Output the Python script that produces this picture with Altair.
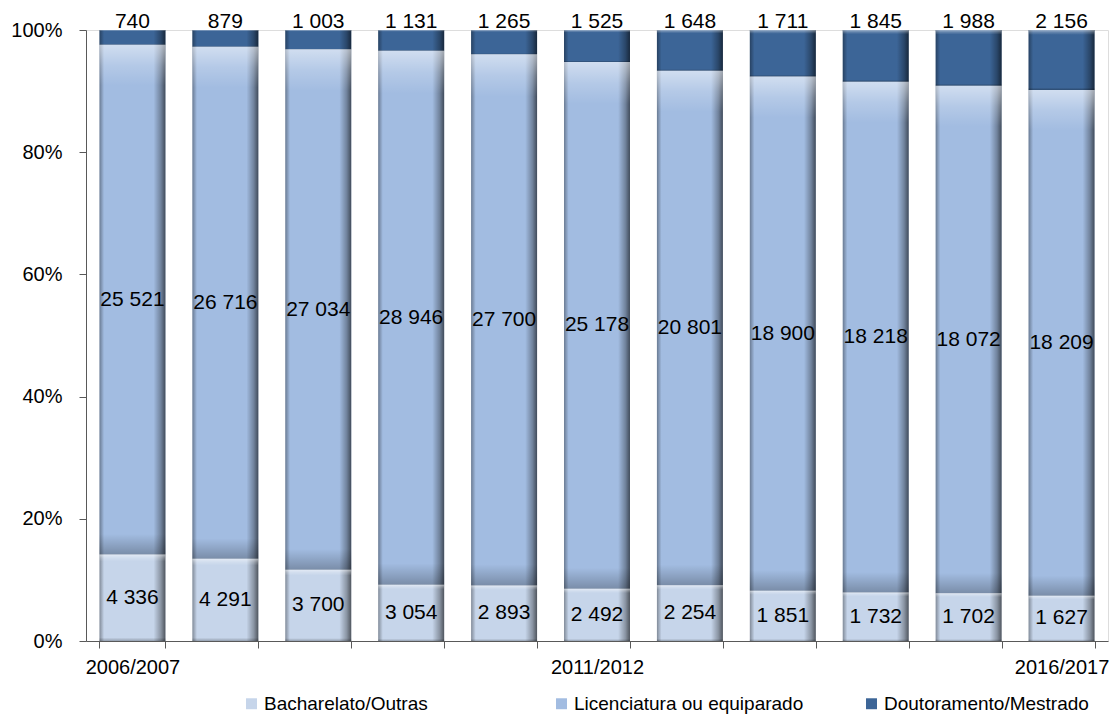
import altair as alt
import pandas as pd

years = ["2006/2007", "2007/2008", "2008/2009", "2009/2010", "2010/2011", "2011/2012",
         "2012/2013", "2013/2014", "2014/2015", "2015/2016", "2016/2017"]
series = ["Bacharelato/Outras", "Licenciatura ou equiparado", "Doutoramento/Mestrado"]
bacharelato = [4336, 4291, 3700, 3054, 2893, 2492, 2254, 1851, 1732, 1702, 1627]
licenciatura = [25521, 26716, 27034, 28946, 27700, 25178, 20801, 18900, 18218, 18072, 18209]
doutoramento = [740, 879, 1003, 1131, 1265, 1525, 1648, 1711, 1845, 1988, 2156]
shown_years = ["2006/2007", "2011/2012", "2016/2017"]
colors = ["#c6d5ea", "#a2bce1", "#3c6597"]

rows = []
for k, vals in enumerate([bacharelato, licenciatura, doutoramento]):
    for y, v in zip(years, vals):
        rows.append({"year": y, "series": series[k], "k": k, "value": v,
                     "label": f"{v:,}".replace(",", " ")})
df = pd.DataFrame(rows)

FONT = "Liberation Sans"

x_enc = alt.X("year:N", sort=years,
              scale=alt.Scale(paddingInner=0.29, paddingOuter=0.145),
              axis=alt.Axis(title=None, tickBand="extent", tickSize=7,
                            labelExpr="indexof(" + str(shown_years) + ", datum.label) >= 0 ? datum.label : ''",
                            labelAngle=0, labelFontSize=20, labelFont=FONT, labelColor="#000000",
                            labelPadding=9, domainColor="#595959", tickColor="#595959",
                            labelOverlap=False))

base = alt.Chart(df)

bars = base.mark_bar().encode(
    x=x_enc,
    y=alt.Y("value:Q", stack="normalize",
            scale=alt.Scale(domain=[0, 1]),
            axis=alt.Axis(title=None, format=".0%", values=[0, 0.2, 0.4, 0.6, 0.8, 1.0],
                          grid=False, tickSize=7, labelPadding=17, labelFontSize=20,
                          labelFont=FONT, labelColor="#000000",
                          domainColor="#595959", tickColor="#595959")),
    color=alt.Color("series:N", sort=series,
                    scale=alt.Scale(domain=series, range=colors),
                    legend=alt.Legend(title=None, orient="none", direction="horizontal",
                                      legendX=156, legendY=664, columns=3, gridAlign="all",
                                      columnPadding=58, symbolType="square", symbolSize=120,
                                      symbolStrokeWidth=0, labelFontSize=19, labelFont=FONT,
                                      labelColor="#000000", labelOffset=3, labelLimit=400,
                                      padding=0)),
    order=alt.Order("k:Q", sort="ascending"),
)

shade_h = base.mark_bar(
    color=alt.Gradient(gradient="linear", x1=0, x2=1, y1=0, y2=0,
                       stops=[alt.GradientStop(offset=0, color="rgba(0,0,0,0.35)"),
                              alt.GradientStop(offset=0.07, color="rgba(0,0,0,0)"),
                              alt.GradientStop(offset=0.82, color="rgba(0,0,0,0)"),
                              alt.GradientStop(offset=0.93, color="rgba(0,0,0,0.3)"),
                              alt.GradientStop(offset=1, color="rgba(0,0,0,0.6)")])
).encode(
    x=x_enc,
    y=alt.Y("value:Q", stack="normalize"),
    detail="series:N",
    order=alt.Order("k:Q", sort="ascending"),
)

shade_v = base.mark_bar(
    color=alt.Gradient(gradient="linear", x1=0, x2=0, y1=0, y2=1,
                       stops=[alt.GradientStop(offset=0, color="rgba(255,255,255,0.5)"),
                              alt.GradientStop(offset=0.04, color="rgba(255,255,255,0.2)"),
                              alt.GradientStop(offset=0.08, color="rgba(255,255,255,0)"),
                              alt.GradientStop(offset=0.96, color="rgba(0,0,0,0)"),
                              alt.GradientStop(offset=1, color="rgba(0,0,0,0.25)")])
).encode(
    x=x_enc,
    y=alt.Y("value:Q", stack="normalize"),
    detail="series:N",
    order=alt.Order("k:Q", sort="ascending"),
)

stacked = base.transform_stack(
    stack="value", groupby=["year"], as_=["v0", "v1"], offset="normalize",
    sort=[alt.SortField("k", order="ascending")]
).transform_calculate(mid="(datum.v0 + datum.v1) / 2")

inner_labels = stacked.transform_filter("datum.k < 2").mark_text(
    fontSize=21, font=FONT, color="#000000", baseline="middle"
).encode(x=x_enc, y=alt.Y("mid:Q"), text="label:N")

top_labels = stacked.transform_filter("datum.k == 2").mark_text(
    fontSize=21, font=FONT, color="#000000", baseline="middle", dy=-8
).encode(x=x_enc, y=alt.Y("v1:Q"), text="label:N")

chart = alt.layer(bars, shade_h, shade_v, inner_labels, top_labels).properties(
    width=1022, height=611,
    autosize=alt.AutoSizeParams(type="none"),
    padding={"left": 78, "top": 22, "right": 2, "bottom": 75},
).configure_view(stroke=None).configure(background="#ffffff")

chart.save("out.html", embed_options={"renderer": "svg", "actions": False})
